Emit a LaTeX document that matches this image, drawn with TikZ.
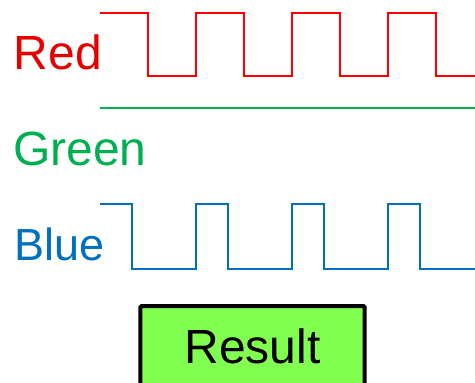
\documentclass[tikz,border=0pt]{standalone}
\usepackage{fontspec}
\setmainfont{Liberation Sans}
\definecolor{sigred}{HTML}{FF0000}
\definecolor{txtred}{HTML}{E60000}
\definecolor{siggreen}{HTML}{00B050}
\definecolor{sigblue}{HTML}{0070C0}
\definecolor{resfill}{HTML}{80FF50}
\begin{document}
\begin{tikzpicture}[x=1pt,y=-1pt,
  lbl/.style={anchor=base west,inner sep=0pt},
  wave/.style={line width=2pt,line join=miter},
  resbox/.style={draw=black,line width=4pt,fill=resfill,rounded corners=1.5pt}]
\useasboundingbox (0,0) rectangle (475,383);
\clip (0,0) rectangle (475,383);
% labels
\node[lbl,text=txtred,font=\fontsize{48}{48}\selectfont] (red) at (13.5,69) {Red};
\node[lbl,text=siggreen,font=\fontsize{48}{48}\selectfont] (green) at (13,165) {Green};
\node[lbl,text=sigblue,font=\fontsize{45}{45}\selectfont] (blue) at (14,260) {Blue};
% waveforms
\draw[wave,sigred] (100,13) -| (148.3,76) -| (196,13) -| (244.3,76) -| (292,13) -| (340,76) -| (387.7,13) -| (436,76) -- (476,76);
\draw[wave,siggreen] (100,108.3) -- (476,108.3);
\draw[wave,sigblue] (100,204.3) -| (132.3,268.7) -| (196,204.3) -| (227.7,268.7) -| (292,204.3) -| (324,268.7) -| (387.7,204.3) -| (420,268.7) -- (476,268.7);
% result box
\draw[resbox] (140.3,306) rectangle (364.7,395);
\node[anchor=base,inner sep=0pt,font=\fontsize{48}{48}\selectfont] (result) at (252.5,363) {Result};
\end{tikzpicture}
\end{document}
